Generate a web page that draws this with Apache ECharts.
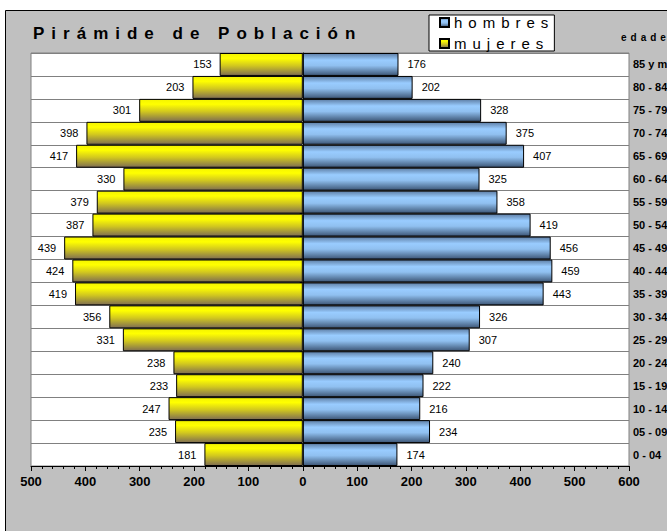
<!DOCTYPE html>
<html>
<head>
<meta charset="utf-8">
<script src="https://cdn.jsdelivr.net/npm/echarts@6/dist/echarts.min.js"></script>
<style>
html,body{margin:0;padding:0;background:#fff;}
#chart{width:667px;height:531px;}
</style>
</head>
<body>
<div id="chart"></div>
<script>
// ---- data (top to bottom) ----
const categorias = ['85 y más', '80 - 84', '75 - 79', '70 - 74', '65 - 69', '60 - 64', '55 - 59', '50 - 54', '45 - 49', '40 - 44', '35 - 39', '30 - 34', '25 - 29', '20 - 24', '15 - 19', '10 - 14', '05 - 09', '0 - 04'];
const mujeres = [153, 203, 301, 398, 417, 330, 379, 387, 439, 424, 419, 356, 331, 238, 233, 247, 235, 181];
const hombres = [176, 202, 328, 375, 407, 325, 358, 419, 456, 459, 443, 326, 307, 240, 222, 216, 234, 174];
const ejeMin = -500;
const ejeMax = 600;
const ejePaso = 100;
const titulo = 'Pirámide de Población';
const tituloEje = 'edades';

const FONT = '"Liberation Sans", Arial, sans-serif';
const chart = echarts.init(document.getElementById('chart'), null, {renderer: 'svg'});

const gradAmarillo = new echarts.graphic.LinearGradient(0, 0, 0, 1, [
  {offset: 0, color: '#f4f400'},
  {offset: 0.22, color: '#ffff00'},
  {offset: 0.55, color: '#d2c81e'},
  {offset: 1, color: '#7f6e52'}
]);
const gradAzul = new echarts.graphic.LinearGradient(0, 0, 0, 1, [
  {offset: 0, color: '#5f7fa6'},
  {offset: 0.3, color: '#99ccff'},
  {offset: 0.55, color: '#90c0f0'},
  {offset: 1, color: '#3d5676'}
]);

const option = {
  animation: false,
  backgroundColor: '#ffffff',
  graphic: [
    {type: 'rect', z: -10, silent: true,
     shape: {x: 5.5, y: 10.5, width: 700, height: 560},
     style: {fill: '#c0c0c0', stroke: '#000', lineWidth: 1}},
    {type: 'text', left: 621, top: 32, silent: true,
     style: {text: tituloEje, font: 'bold 10px ' + FONT, fill: '#000'}}
  ],
  title: {
    text: titulo, left: 33, top: 25, padding: 0,
    textStyle: {fontFamily: FONT, fontSize: 17, fontWeight: 'bold', color: '#000', lineHeight: 17}
  },
  legend: {
    orient: 'vertical', left: 429, top: 15,
    data: ['hombres', 'mujeres'],
    backgroundColor: '#fff', borderColor: '#000', borderWidth: 1,
    padding: [0, 42, 0, 10], itemGap: 6, itemWidth: 9, itemHeight: 9, icon: 'rect',
    textStyle: {fontFamily: FONT, fontSize: 15, color: '#000', lineHeight: 14}
  },
  grid: {
    left: 31, top: 53, width: 598, height: 413,
    outerBoundsMode: 'none', containLabel: false,
    show: true, backgroundColor: '#fff', borderColor: '#808080', borderWidth: 1
  },
  xAxis: {
    type: 'value', min: ejeMin, max: ejeMax, interval: ejePaso,
    axisLine: {show: true, onZero: false, lineStyle: {color: '#000', width: 1}},
    axisTick: {show: true, length: 5, lineStyle: {color: '#000'}},
    minorTick: {show: true, splitNumber: 5, length: 3, lineStyle: {color: '#000'}},
    splitLine: {show: false},
    axisLabel: {margin: 9, color: '#000', fontFamily: FONT, fontSize: 13, fontWeight: 'bold',
      formatter: v => String(Math.abs(v))}
  },
  yAxis: [
    {
      type: 'category', data: categorias, inverse: true, position: 'left',
      axisLine: {show: true, onZero: true, lineStyle: {color: '#000'}},
      axisTick: {show: true, length: 3, lineStyle: {color: '#000'}},
      axisLabel: {show: false},
      splitLine: {show: true, interval: 0, lineStyle: {color: '#808080', width: 1}}
    },
    {
      type: 'category', data: categorias, inverse: true, position: 'right',
      axisLine: {show: false}, axisTick: {show: false}, splitLine: {show: false},
      axisLabel: {margin: 4, color: '#000', fontFamily: FONT, fontSize: 11, fontWeight: 'bold', align: 'left'}
    }
  ],
  series: [
    {
      name: 'hombres', type: 'bar', data: hombres,
      barGap: '-100%', barCategoryGap: '0%',
      itemStyle: {color: gradAzul, borderColor: '#000', borderWidth: 1},
      label: {show: true, position: 'right', distance: 9, color: '#000', fontFamily: FONT, fontSize: 11}
    },
    {
      name: 'mujeres', type: 'bar', data: mujeres.map(v => -v),
      barGap: '-100%', barCategoryGap: '0%',
      itemStyle: {color: gradAmarillo, borderColor: '#000', borderWidth: 1},
      label: {show: true, position: 'left', distance: 8, color: '#000', fontFamily: FONT, fontSize: 11,
        formatter: p => String(Math.abs(p.value))}
    }
  ]
};
chart.setOption(option);

// letter spacing for the spaced-out headings, as in the original
const espaciado = {};
espaciado[titulo] = '7px';
espaciado['hombres'] = '6px';
espaciado['mujeres'] = '6px';
espaciado[tituloEje] = '4px';
function aplicarEspaciado() {
  document.querySelectorAll('#chart text').forEach(t => {
    const s = espaciado[t.textContent];
    if (s) t.setAttribute('letter-spacing', s);
  });
}
chart.on('finished', aplicarEspaciado);
aplicarEspaciado();
setTimeout(aplicarEspaciado, 0);
</script>
</body>
</html>
